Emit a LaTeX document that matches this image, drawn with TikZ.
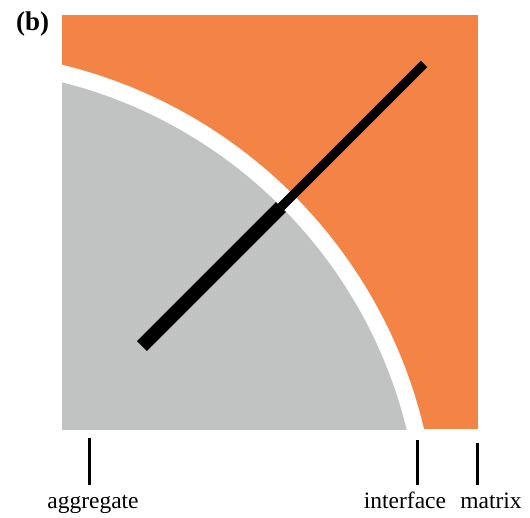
\documentclass[tikz,border=0pt]{standalone}
\usepackage{fontspec}
\setmainfont{Liberation Serif}
\usetikzlibrary{positioning,calc}
\definecolor{matrixorange}{RGB}{244,132,70}
\definecolor{aggrgrey}{RGB}{193,194,194}

\begin{document}
\begin{tikzpicture}[x=1pt, y=-1pt,
    lbl/.style={font=\fontsize{23.5}{28}\selectfont, inner sep=0pt,
                text height=15pt, text depth=5pt, anchor=base},
    tickline/.style={line width=3pt, black, shorten >=8pt},
    fibre/.style={black, line cap=butt}
]
    \useasboundingbox (0,0) rectangle (530,517);
    \coordinate (ctr) at (-54,542);
    % matrix square, white interface band, grey aggregate
    \begin{scope}
        \clip (62,15) rectangle (478,429);
        \fill[matrixorange] (62,15) rectangle (478,429);
        \fill[white] (ctr) circle (491pt);
        \fill[aggrgrey] (ctr) circle (474pt);
    \end{scope}
    % fibre: thick inside the aggregate, thin outside
    \coordinate (fa) at (142,346);
    \coordinate (fb) at (281,207);
    \coordinate (fc) at (424,64);
    \draw[fibre, line width=14pt] (fa) -- (fb);
    \draw[fibre, line width=9pt] (fb) -- (fc);

    \node[font=\fontsize{27}{32}\selectfont\bfseries, inner sep=0pt, anchor=base west] (panel) at (16,30) {(b)};

    \node[lbl] (agg)  at (93,508)  {aggregate};
    \node[lbl] (intf) at (405,508) {interface};
    \node[lbl] (mtx)  at (491,508) {matrix};
    \coordinate (aggtop)  at (89,438);
    \coordinate (intftop) at (417,440);
    \coordinate (mtxtop)  at (477,443);
    \draw[tickline] (aggtop)  -- (aggtop |- agg.north);
    \draw[tickline] (intftop) -- (intftop |- intf.north);
    \draw[tickline] (mtxtop)  -- (mtxtop |- mtx.north);
\end{tikzpicture}
\end{document}
